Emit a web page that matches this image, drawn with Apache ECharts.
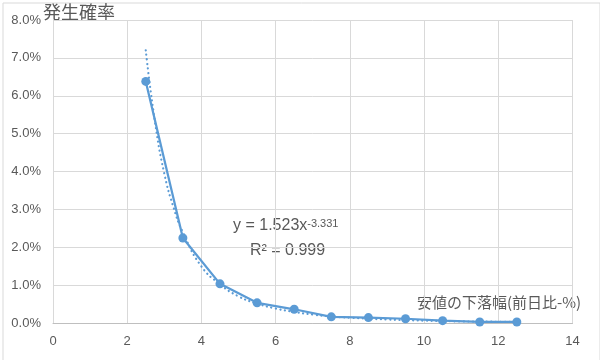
<!DOCTYPE html>
<html><head><meta charset="utf-8">
<script src="https://cdn.jsdelivr.net/npm/echarts@6/dist/echarts.min.js"></script>
<style>html,body{margin:0;padding:0;background:#fff}#c{width:600px;height:360px}</style>
</head><body><div id="c"></div>
<script>
// Observed data: drop width (x) vs. occurrence probability (%)
const xValues = [2.5, 3.5, 4.5, 5.5, 6.5, 7.5, 8.5, 9.5, 10.5, 11.5, 12.5];
const probValues = [6.38, 2.25, 1.04, 0.54, 0.37, 0.17, 0.15, 0.12, 0.07, 0.035, 0.035];
// Power trendline, points
const trendX = [2.5, 2.75, 3, 3.25, 3.5, 4, 4.5, 5, 5.5, 6, 6.5, 7, 7.5, 8, 9, 10, 11, 12, 12.5];
const trendY = [7.2, 5.3, 3.95, 3.05, 2.4, 1.5, 1.03, 0.71, 0.52, 0.39, 0.30, 0.23, 0.18, 0.15, 0.10, 0.07, 0.05, 0.04, 0.035];
const yTicks = [0, 1, 2, 3, 4, 5, 6, 7, 8];
const xTicks = [0, 2, 4, 6, 8, 10, 12, 14];
const titleText = '発生確率';
const xAxisName = '安値の下落幅(前日比-%)';

const chart = echarts.init(document.getElementById('c'), null, {renderer: 'canvas'});
const font = '"Liberation Sans", "Noto Sans CJK JP", sans-serif';
const textColor = '#595959';
const blue = '#5B9BD5';
chart.setOption({
  animation: false,
  backgroundColor: '#fff',
  grid: {left: 53, right: 27.5, top: 20, bottom: 36.7},
  xAxis: {
    type: 'value', min: xTicks[0], max: xTicks[xTicks.length - 1], interval: 2,
    axisLine: {show: true, lineStyle: {color: '#bfbfbf'}},
    axisTick: {show: false},
    splitLine: {show: true, lineStyle: {color: '#d9d9d9'}},
    axisLabel: {color: textColor, fontSize: 13, fontFamily: font, margin: 12}
  },
  yAxis: {
    type: 'value', min: yTicks[0], max: yTicks[yTicks.length - 1], interval: 1,
    axisLine: {show: false},
    axisTick: {show: false},
    splitLine: {show: true, lineStyle: {color: '#d9d9d9'}},
    axisLabel: {color: textColor, fontSize: 13, fontFamily: font, margin: 12,
      formatter: v => v.toFixed(1) + '%'}
  },
  series: [
    {
      type: 'line', data: trendX.map((x, i) => [x, trendY[i]]),
      smooth: true, symbol: 'none',
      lineStyle: {color: blue, width: 2.2, type: [0.1, 4.5], cap: 'round'},
      z: 1
    },
    {
      type: 'line', data: xValues.map((x, i) => [x, probValues[i]]),
      symbol: 'circle', symbolSize: 9,
      itemStyle: {color: blue},
      lineStyle: {color: blue, width: 2.25},
      z: 2
    }
  ],
  graphic: [
    {type: 'rect', left: 0.5, top: 0.5, shape: {width: 597, height: 358},
      style: {fill: 'none', stroke: '#d9d9d9', lineWidth: 1}, silent: true, z: -1},
    {type: 'text', left: 43, top: 3, style: {text: titleText, fill: textColor, fontSize: 18,
      fontFamily: '"Noto Sans CJK JP", sans-serif'}},
    {type: 'text', left: 417, top: 295, style: {text: xAxisName, fill: textColor, fontSize: 15,
      fontFamily: '"Noto Sans CJK JP", sans-serif'}},
    {type: 'text', left: 233, top: 218, style: {
      text: '{b|y = 1.523x}{s|-3.331}', fill: textColor, fontFamily: font,
      rich: {b: {fontSize: 16, fill: textColor, fontFamily: font, height: 22, verticalAlign: 'bottom'},
             s: {fontSize: 11, fill: textColor, fontFamily: font, height: 22, verticalAlign: 'top', padding: [0,0,2,0]}}
    }},
    {type: 'text', left: 250, top: 243, style: {text: 'R² = 0.999', fill: textColor, fontSize: 16, fontFamily: font}}
  ]
});
</script></body></html>
